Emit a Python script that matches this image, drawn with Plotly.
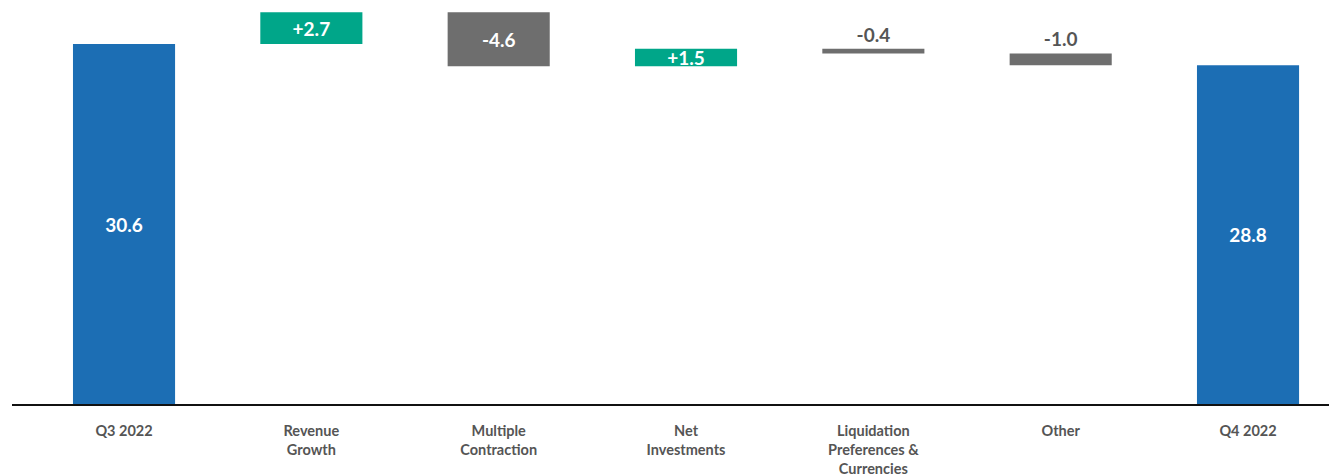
import numpy as np
import plotly.graph_objects as go

categories = ["Q3 2022", "Revenue Growth", "Multiple Contraction", "Net Investments",
              "Liquidation Preferences & Currencies", "Other", "Q4 2022"]
tick_labels = ["Q3 2022", "Revenue<br>Growth", "Multiple<br>Contraction", "Net<br>Investments",
               "Liquidation<br>Preferences &<br>Currencies", "Other", "Q4 2022"]
start_value = 30.6
changes = [2.7, -4.6, 1.5, -0.4, -1.0]
end_value = 28.8
text_labels = ["30.6", "+2.7", "-4.6", "+1.5", "-0.4", "-1.0", "28.8"]

BLUE = "#1c6eb4"
GREEN = "#00a689"
GRAY = "#6e6e6e"
TEXT = "#555555"

levels = start_value + np.cumsum([0] + changes)
bases = [0.0]
heights = [start_value]
colors = [BLUE]
for i, d in enumerate(changes):
    prev = levels[i]
    bases.append(min(prev, prev + d))
    heights.append(abs(d))
    colors.append(GREEN if d > 0 else GRAY)
bases.append(0.0)
heights.append(end_value)
colors.append(BLUE)

positions = ["inside", "inside", "inside", "inside", "outside", "outside", "inside"]
text_colors = ["white" if p == "inside" else TEXT for p in positions]

x = list(range(len(categories)))
fig = go.Figure(go.Bar(
    x=x, y=heights, base=bases,
    marker=dict(color=colors, line=dict(width=0)),
    width=0.545,
    text=text_labels, textposition=positions,
    insidetextanchor="middle",
    textfont=dict(family="Lato, Open Sans, sans-serif", size=19, color=text_colors, weight="bold"),
    constraintext="none", cliponaxis=False,
    hoverinfo="skip",
))

fig.update_layout(
    width=1329, height=466,
    margin=dict(l=4, r=0, t=0, b=70),
    paper_bgcolor="white", plot_bgcolor="white",
    showlegend=False,
    font=dict(family="Lato, Open Sans, sans-serif"),
)
fig.update_xaxes(
    tickmode="array", tickvals=x, ticktext=tick_labels,
    range=[-0.598, 6.475],
    automargin=False,
    showline=True, linecolor="#111111", linewidth=2,
    showgrid=False, zeroline=False,
    ticks="outside", ticklen=13, tickcolor="rgba(0,0,0,0)",
    tickfont=dict(family="Lato, Open Sans, sans-serif", size=14.5, color=TEXT, weight="bold"),
)
fig.update_yaxes(range=[0, 33.66], visible=False, showgrid=False, zeroline=False, automargin=False)

fig.write_html("out.html")
